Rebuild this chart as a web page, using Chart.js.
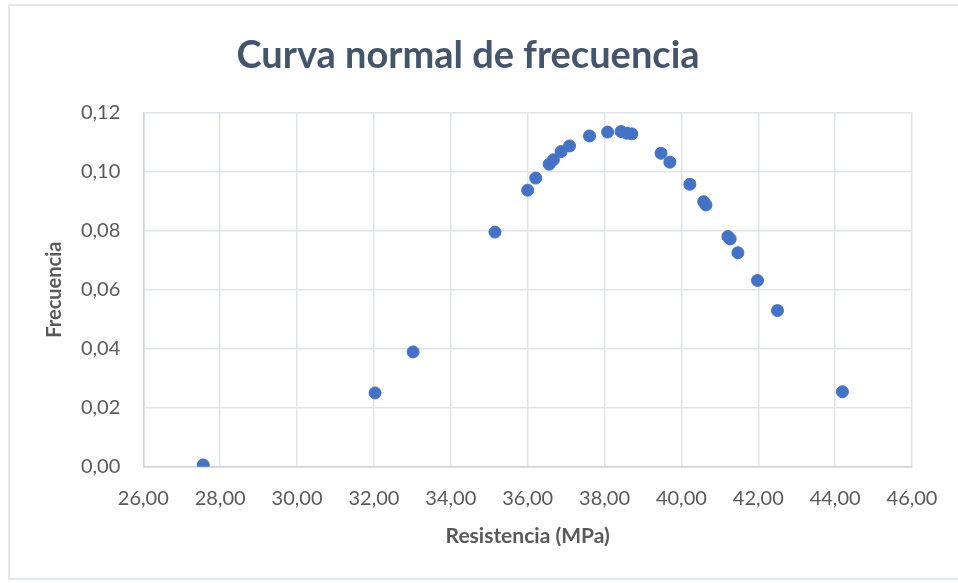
<!DOCTYPE html>
<html>
<head>
<meta charset="utf-8">
<script src="https://cdn.jsdelivr.net/npm/chart.js@4.4.1/dist/chart.umd.min.js"></script>
<style>
  html, body { margin: 0; padding: 0; background: #ffffff; overflow: hidden; }
  #frame {
    position: absolute; left: 8px; top: 4px; width: 970px; height: 576px;
    border: 2px solid #e4e8ed; box-sizing: border-box;
  }
  #chart1 { position: absolute; left: 0; top: 0; }
</style>
</head>
<body>
<div id="frame"></div>
<canvas id="chart1" width="958" height="583"></canvas>
<script>
// Resistencia (MPa) de cada ensayo y su frecuencia normal
const resistencia = [27.56, 32.03, 33.02, 35.15, 36.00, 36.21, 36.56, 36.67, 36.87, 37.09,
                     37.61, 38.08, 38.43, 38.58, 38.71, 39.47, 39.70, 40.22, 40.58, 40.64,
                     41.21, 41.27, 41.47, 41.98, 42.50, 44.19];
const frecuencia = [0.0006, 0.0250, 0.0389, 0.0795, 0.0937, 0.0978, 0.1025, 0.1040, 0.1068, 0.1087,
                    0.1121, 0.1134, 0.1136, 0.1130, 0.1128, 0.1062, 0.1032, 0.0957, 0.0898, 0.0887,
                    0.0780, 0.0772, 0.0725, 0.0631, 0.0529, 0.0254];
const xTicks = [26, 28, 30, 32, 34, 36, 38, 40, 42, 44, 46];
const yTicks = [0, 0.02, 0.04, 0.06, 0.08, 0.10, 0.12];

const puntos = resistencia.map((x, i) => ({ x: x, y: frecuencia[i] }));
const coma = v => v.toFixed(2).replace(".", ",");

const textGray = "#595959";
const gridGray = "#e1e5eb";
const axisGray = "#ccd3dc";

const chart1 = document.getElementById("chart1");

const scatter = new Chart(chart1, {
    type: "scatter",
    data: {
        datasets: [{
            label: "Frecuencia",
            data: puntos,
            pointRadius: 6,
            pointHoverRadius: 6,
            borderWidth: 1,
            backgroundColor: "#4472c4",
            borderColor: "#4472c4"
        }]
    },
    options: {
        responsive: false,
        animation: false,
        layout: { padding: { left: 24, right: 46, top: 0, bottom: 0 } },
        plugins: {
            legend: { display: false },
            tooltip: { enabled: false },
            title: {
                display: true,
                text: "Curva normal de frecuencia",
                color: "#44546a",
                font: { family: "Lato", size: 38, weight: "bold", lineHeight: 1.2 },
                padding: { top: 33, bottom: 34 }
            }
        },
        scales: {
            x: {
                type: "linear",
                min: xTicks[0],
                max: xTicks[xTicks.length - 1],
                afterBuildTicks: s => { s.ticks = xTicks.map(v => ({ value: v })); },
                afterFit: s => { s.height = 116.3; },
                grid: { color: gridGray, lineWidth: 1.5, drawTicks: false },
                border: { color: axisGray, width: 1.5 },
                ticks: {
                    color: textGray,
                    padding: 20,
                    font: { family: "Lato", size: 20 },
                    callback: v => coma(v)
                },
                title: {
                    display: true,
                    text: "Resistencia (MPa)",
                    color: textGray,
                    font: { family: "Lato", size: 21, weight: "bold", lineHeight: 1.2 },
                    padding: { top: 0, bottom: 34 }
                }
            },
            y: {
                type: "linear",
                min: yTicks[0],
                max: yTicks[yTicks.length - 1],
                afterBuildTicks: s => { s.ticks = yTicks.map(v => ({ value: v })); },
                afterFit: s => { s.width = 119.3; },
                grid: { color: gridGray, lineWidth: 1.5, drawTicks: false },
                border: { color: axisGray, width: 1.5 },
                ticks: {
                    color: textGray,
                    padding: 23,
                    font: { family: "Lato", size: 20 },
                    callback: v => coma(v)
                },
                title: {
                    display: true,
                    text: "Frecuencia",
                    color: textGray,
                    font: { family: "Lato", size: 20, weight: "bold", lineHeight: 1.2 },
                    padding: { top: 19, bottom: 0 }
                }
            }
        }
    }
});
</script>
</body>
</html>
